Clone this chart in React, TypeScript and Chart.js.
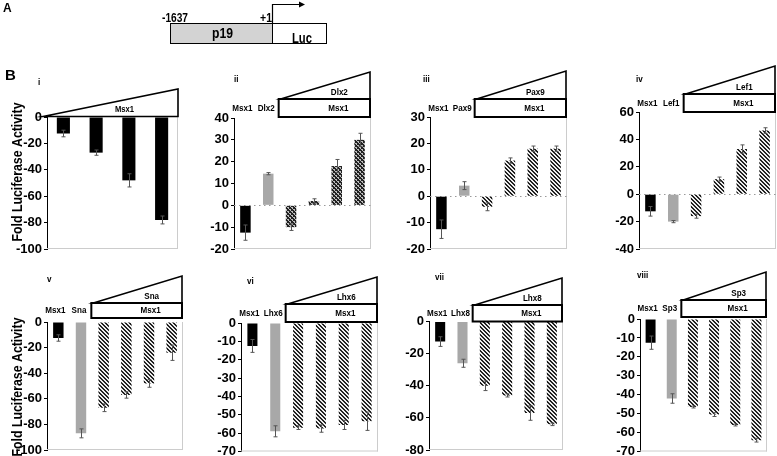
import React, { useEffect, useRef } from "react";
import { Chart, registerables } from "chart.js";
Chart.register(...registerables);

// ---------- DATA ----------
const panelICategories = ["Msx1 dose 1", "Msx1 dose 2", "Msx1 dose 3", "Msx1 dose 4"];
const panelIValues = [-12.5, -27, -48, -78];
const panelIErrors = [2.5, 2, 5, 3];
const panelITicks = [-100, 0, 20];

const panelIICategories = ["Msx1", "Dlx2", "Msx1+Dlx2 1", "Msx1+Dlx2 2", "Msx1+Dlx2 3", "Msx1+Dlx2 4"];
const panelIIValues = [-12.5, 14.5, -10, 2, 18, 30];
const panelIIErrors = [3.5, 0.5, 1.5, 1, 3, 3];
const panelIITicks = [-20, 40, 10];

const panelIIICategories = ["Msx1", "Pax9", "Msx1+Pax9 1", "Msx1+Pax9 2", "Msx1+Pax9 3", "Msx1+Pax9 4"];
const panelIIIValues = [-12.5, 4, -4, 13.5, 18, 18];
const panelIIIErrors = [3.5, 1.5, 1.5, 1, 1, 1];
const panelIIITicks = [-20, 30, 10];

const panelIVCategories = ["Msx1", "Lef1", "Msx1+Lef1 1", "Msx1+Lef1 2", "Msx1+Lef1 3", "Msx1+Lef1 4"];
const panelIVValues = [-12.5, -20, -16, 11, 33, 46.5];
const panelIVErrors = [3.5, 0.8, 1.5, 1.5, 3, 2];
const panelIVTicks = [-40, 60, 20];

const panelVCategories = ["Msx1", "Sna", "Msx1+Sna 1", "Msx1+Sna 2", "Msx1+Sna 3", "Msx1+Sna 4"];
const panelVValues = [-12.5, -87, -67, -57, -48, -24];
const panelVErrors = [2.5, 3.5, 3, 2.5, 3, 6];
const panelVTicks = [-100, 0, 20];

const panelVICategories = ["Msx1", "Lhx6", "Msx1+Lhx6 1", "Msx1+Lhx6 2", "Msx1+Lhx6 3", "Msx1+Lhx6 4"];
const panelVIValues = [-12.5, -59, -57, -57.5, -55.5, -53.5];
const panelVIErrors = [3.5, 3, 1, 2, 2.5, 5];
const panelVITicks = [-70, 0, 10];

const panelVIICategories = ["Msx1", "Lhx8", "Msx1+Lhx8 1", "Msx1+Lhx8 2", "Msx1+Lhx8 3", "Msx1+Lhx8 4"];
const panelVIIValues = [-12.5, -26, -40, -46, -57, -64];
const panelVIIErrors = [3, 2.5, 3, 1, 4.5, 0.8];
const panelVIITicks = [-80, 0, 20];

const panelVIIICategories = ["Msx1", "Sp3", "Msx1+Sp3 1", "Msx1+Sp3 2", "Msx1+Sp3 3", "Msx1+Sp3 4"];
const panelVIIIValues = [-12.5, -42, -46.5, -50.5, -56, -64];
const panelVIIIErrors = [3.5, 2.5, 0.5, 1, 0.5, 1];
const panelVIIITicks = [-70, 0, 10];

const yTitle = "Fold Luciferase Activity";

// ---------- LAYOUT ----------
type Panel = {
  id: string;
  numeral: string;
  categories: string[];
  values: number[];
  errors: number[];
  ticks: number[];
  canvas: { L: number; T: number; W: number; H: number };
  plot: { left: number; right: number; top: number; bottom: number };
  box?: { top: number; bottom: number };
  triTop: number;
  numeralPos: [number, number];
  yTitleY?: number;
  cross?: boolean;
  mono?: boolean;
  barFrac: number;
};

const panels: Panel[] = [
  { id: "i", numeral: "i", categories: panelICategories, values: panelIValues, errors: panelIErrors, ticks: panelITicks,
    canvas: { L: 0, T: 50, W: 200, H: 220 }, plot: { left: 47, right: 178, top: 117, bottom: 249 },
    triTop: 89, numeralPos: [38, 83], yTitleY: 172, mono: true, barFrac: 0.4 },
  { id: "ii", numeral: "ii", categories: panelIICategories, values: panelIIValues, errors: panelIIErrors, ticks: panelIITicks,
    canvas: { L: 200, T: 50, W: 190, H: 220 }, plot: { left: 234, right: 371, top: 118, bottom: 249 },
    box: { top: 99, bottom: 117 }, triTop: 72, numeralPos: [234, 80], cross: true, barFrac: 0.46 },
  { id: "iii", numeral: "iii", categories: panelIIICategories, values: panelIIIValues, errors: panelIIIErrors, ticks: panelIIITicks,
    canvas: { L: 395, T: 50, W: 195, H: 220 }, plot: { left: 430, right: 567, top: 117, bottom: 249 },
    box: { top: 99, bottom: 117 }, triTop: 71, numeralPos: [423, 80], barFrac: 0.46 },
  { id: "iv", numeral: "iv", categories: panelIVCategories, values: panelIVValues, errors: panelIVErrors, ticks: panelIVTicks,
    canvas: { L: 590, T: 50, W: 187, H: 220 }, plot: { left: 639, right: 776, top: 112, bottom: 249 },
    box: { top: 94, bottom: 112 }, triTop: 66, numeralPos: [636, 80], barFrac: 0.46 },
  { id: "v", numeral: "v", categories: panelVCategories, values: panelVValues, errors: panelVErrors, ticks: panelVTicks,
    canvas: { L: 0, T: 250, W: 200, H: 220 }, plot: { left: 47, right: 183, top: 322, bottom: 450 },
    box: { top: 303, bottom: 318 }, triTop: 276, numeralPos: [47, 280], yTitleY: 387, barFrac: 0.46 },
  { id: "vi", numeral: "vi", categories: panelVICategories, values: panelVIValues, errors: panelVIErrors, ticks: panelVITicks,
    canvas: { L: 200, T: 250, W: 195, H: 220 }, plot: { left: 241, right: 378, top: 323, bottom: 451.5 },
    box: { top: 304, bottom: 322 }, triTop: 277, numeralPos: [247, 282], barFrac: 0.44 },
  { id: "vii", numeral: "vii", categories: panelVIICategories, values: panelVIIValues, errors: panelVIIErrors, ticks: panelVIITicks,
    canvas: { L: 395, T: 250, W: 195, H: 220 }, plot: { left: 429, right: 563, top: 321.5, bottom: 450 },
    box: { top: 305, bottom: 321.5 }, triTop: 278, numeralPos: [435, 278], barFrac: 0.45 },
  { id: "viii", numeral: "viii", categories: panelVIIICategories, values: panelVIIIValues, errors: panelVIIIErrors, ticks: panelVIIITicks,
    canvas: { L: 590, T: 250, W: 187, H: 220 }, plot: { left: 640, right: 767, top: 319, bottom: 451.5 },
    box: { top: 300, bottom: 317 }, triTop: 272, numeralPos: [637, 276], barFrac: 0.47 },
];

const FONT = '"Liberation Sans", Arial, Helvetica, sans-serif';

function txt(ctx: CanvasRenderingContext2D, s: string, x: number, y: number, size: number,
  align: CanvasTextAlign = "center", sx = 0.85) {
  ctx.save();
  ctx.font = `bold ${size}px ${FONT}`;
  ctx.textBaseline = "middle";
  ctx.textAlign = align;
  ctx.fillStyle = "#000";
  ctx.translate(x, y);
  ctx.scale(sx, 1);
  ctx.fillText(s, 0, 0);
  ctx.restore();
}

function makeHatch(cross: boolean): CanvasPattern | string {
  const n = 4;
  const c = document.createElement("canvas");
  c.width = n; c.height = n;
  const g = c.getContext("2d");
  if (!g) return "#777";
  g.fillStyle = cross ? "#bdbdbd" : "#eeeeee";
  g.fillRect(0, 0, n, n);
  g.fillStyle = "#222";
  for (let i = 0; i < n; i++) {
    g.fillRect(i, i, 1, 1);
    g.fillRect((i + 1) % n, i, 1, 1);
    if (cross) g.fillRect(n - 1 - i, i, 1, 1);
  }
  return g.createPattern(c, "repeat") || "#777";
}

function annotPlugin(p: Panel) {
  const ox = p.canvas.L, oy = p.canvas.T;
  return {
    id: "annot" + p.id,
    beforeDatasetsDraw(chart: any) {
      const { ctx, chartArea: a, scales } = chart;
      const y = scales.y;
      ctx.save();
      ctx.strokeStyle = "#cccccc";
      ctx.lineWidth = 1;
      ctx.beginPath();
      ctx.moveTo(a.left, a.bottom - 0.5); ctx.lineTo(a.right, a.bottom - 0.5);
      ctx.moveTo(a.right - 0.5, a.top); ctx.lineTo(a.right - 0.5, a.bottom);
      ctx.stroke();
      if (p.ticks[0] < 0 && p.ticks[1] > 0) {
        const y0 = Math.round(y.getPixelForValue(0)) + 0.5;
        ctx.setLineDash([1.5, 3.5]);
        ctx.strokeStyle = "#999";
        ctx.beginPath(); ctx.moveTo(a.left, y0); ctx.lineTo(a.right, y0); ctx.stroke();
      }
      ctx.restore();
    },
    afterDatasetsDraw(chart: any) {
      const { ctx, scales } = chart;
      const y = scales.y;
      const meta = chart.getDatasetMeta(0);
      ctx.save();
      ctx.strokeStyle = "#555";
      ctx.lineWidth = 1;
      meta.data.forEach((bar: any, i: number) => {
        const v = p.values[i], e = p.errors[i];
        const x = Math.round(bar.x) + 0.5;
        const y1 = y.getPixelForValue(v - e), y2 = y.getPixelForValue(v + e);
        ctx.beginPath();
        ctx.moveTo(x, y1); ctx.lineTo(x, y2);
        ctx.moveTo(x - 2, y1); ctx.lineTo(x + 2, y1);
        ctx.moveTo(x - 2, y2); ctx.lineTo(x + 2, y2);
        ctx.stroke();
      });
      ctx.restore();
    },
    afterDraw(chart: any) {
      const { ctx, chartArea: a } = chart;
      const meta = chart.getDatasetMeta(0);
      ctx.save();
      txt(ctx, p.numeral, p.numeralPos[0] - ox, p.numeralPos[1] - oy, 9, "left", 0.9);
      if (p.yTitleY !== undefined) {
        ctx.save();
        ctx.translate(18 - ox, p.yTitleY - oy);
        ctx.rotate(-Math.PI / 2);
        ctx.font = `bold 15px ${FONT}`;
        const w = ctx.measureText(yTitle).width;
        txt(ctx, yTitle, 0, 0, 15, "center", 139 / w);
        ctx.restore();
      }
      ctx.strokeStyle = "#000";
      ctx.fillStyle = "#fff";
      if (!p.box) {
        const by = a.top - 0.5;
        ctx.lineWidth = 1.6;
        ctx.beginPath();
        ctx.moveTo(43 - ox, by);
        ctx.lineTo(a.right, p.triTop - oy);
        ctx.lineTo(a.right, by);
        ctx.closePath();
        ctx.fill(); ctx.stroke();
        txt(ctx, "Msx1", (a.left + a.right) / 2 + 12, a.top - 7, 9);
      } else {
        const bx0 = (meta.data[1].x + meta.data[2].x) / 2 - 1;
        const bx1 = a.right - 1;
        const bt = p.box.top - oy, bb = p.box.bottom - oy;
        ctx.lineWidth = 1.6;
        ctx.beginPath();
        ctx.moveTo(bx0 + 2, bt);
        ctx.lineTo(bx1, p.triTop - oy);
        ctx.lineTo(bx1, bt);
        ctx.closePath();
        ctx.fill(); ctx.stroke();
        ctx.lineWidth = 2;
        ctx.fillRect(bx0, bt, bx1 - bx0, bb - bt);
        ctx.strokeRect(bx0, bt, bx1 - bx0, bb - bt);
        const cx = (bx0 + bx1) / 2;
        txt(ctx, p.categories[1], cx + 15, bt - 6.5, 9.5);
        txt(ctx, p.categories[0], cx + 14, (bt + bb) / 2, 9.5);
        txt(ctx, p.categories[0], meta.data[0].x - 3, (bt + bb) / 2, 9.5);
        txt(ctx, p.categories[1], meta.data[1].x - 2, (bt + bb) / 2, 9.5);
      }
      ctx.restore();
    },
  };
}

function PanelChart({ p }: { p: Panel }) {
  const ref = useRef<HTMLCanvasElement | null>(null);
  useEffect(() => {
    if (!ref.current) return;
    const hatch = makeHatch(!!p.cross);
    const colors = p.values.map((_, i) => (p.mono || i === 0 ? "#000" : i === 1 ? "#a8a8a8" : hatch));
    const { L, T, W, H } = p.canvas;
    const chart = new Chart(ref.current, {
      type: "bar",
      data: {
        labels: p.categories,
        datasets: [{
          data: p.values,
          backgroundColor: colors as any,
          borderWidth: 0,
          barPercentage: p.barFrac,
          categoryPercentage: 1,
        }],
      },
      options: {
        animation: false,
        responsive: false,
        maintainAspectRatio: false,
        devicePixelRatio: 1,
        layout: {
          padding: {
            left: 0,
            top: p.plot.top - T,
            bottom: T + H - p.plot.bottom,
            right: L + W - p.plot.right,
          },
        },
        plugins: { legend: { display: false }, tooltip: { enabled: false } },
        scales: {
          x: { display: false, offset: true },
          y: {
            min: p.ticks[0],
            max: p.ticks[1],
            ticks: {
              stepSize: p.ticks[2],
              autoSkip: false,
              color: "#000",
              padding: 2,
              font: { family: FONT, weight: "bold", size: 13 },
            },
            grid: { drawOnChartArea: false, drawTicks: true, tickLength: 3, color: "#000" },
            border: { display: true, color: "#000", width: 1 },
            afterFit: (s: any) => { s.width = p.plot.left - L; },
          },
        },
      } as any,
      plugins: [annotPlugin(p)],
    });
    return () => chart.destroy();
  }, [p]);
  return (
    <canvas
      ref={ref}
      width={p.canvas.W}
      height={p.canvas.H}
      style={{ position: "absolute", left: p.canvas.L, top: p.canvas.T, width: p.canvas.W, height: p.canvas.H }}
    />
  );
}

function PanelA() {
  const tf = "Liberation Sans, Arial, sans-serif";
  return (
    <svg width={777} height={90} style={{ position: "absolute", left: 0, top: 0 }}>
      <text x={3} y={12} fontFamily={tf} fontWeight="bold" fontSize={12}>A</text>
      <text x={5} y={80} fontFamily={tf} fontWeight="bold" fontSize={15}>B</text>
      <rect x={170.5} y={23.5} width={102} height={20} fill="#d3d3d3" stroke="#000" strokeWidth={1} />
      <rect x={272.5} y={23.5} width={54} height={20} fill="#fff" stroke="#000" strokeWidth={1} />
      <text x={212} y={38} fontFamily={tf} fontWeight="bold" fontSize={15} textLength={21} lengthAdjust="spacingAndGlyphs">p19</text>
      <text x={292} y={43} fontFamily={tf} fontWeight="bold" fontSize={14} textLength={20} lengthAdjust="spacingAndGlyphs">Luc</text>
      <text x={162} y={22} fontFamily={tf} fontWeight="bold" fontSize={13} textLength={26} lengthAdjust="spacingAndGlyphs">-1637</text>
      <text x={260} y={22} fontFamily={tf} fontWeight="bold" fontSize={13} textLength={12} lengthAdjust="spacingAndGlyphs">+1</text>
      <polyline points="272.5,23 272.5,4.5 300,4.5" fill="none" stroke="#000" strokeWidth={1.2} />
      <polygon points="299,1.5 305,4.5 299,7.5" fill="#000" />
    </svg>
  );
}

export default function App() {
  useEffect(() => {
    document.body.style.margin = "0";
  }, []);
  return (
    <div style={{ position: "fixed", left: 0, top: 0, width: 777, height: 456, overflow: "hidden", background: "#fff" }}>
      {panels.map((p) => (
        <PanelChart key={p.id} p={p} />
      ))}
      <PanelA />
    </div>
  );
}
